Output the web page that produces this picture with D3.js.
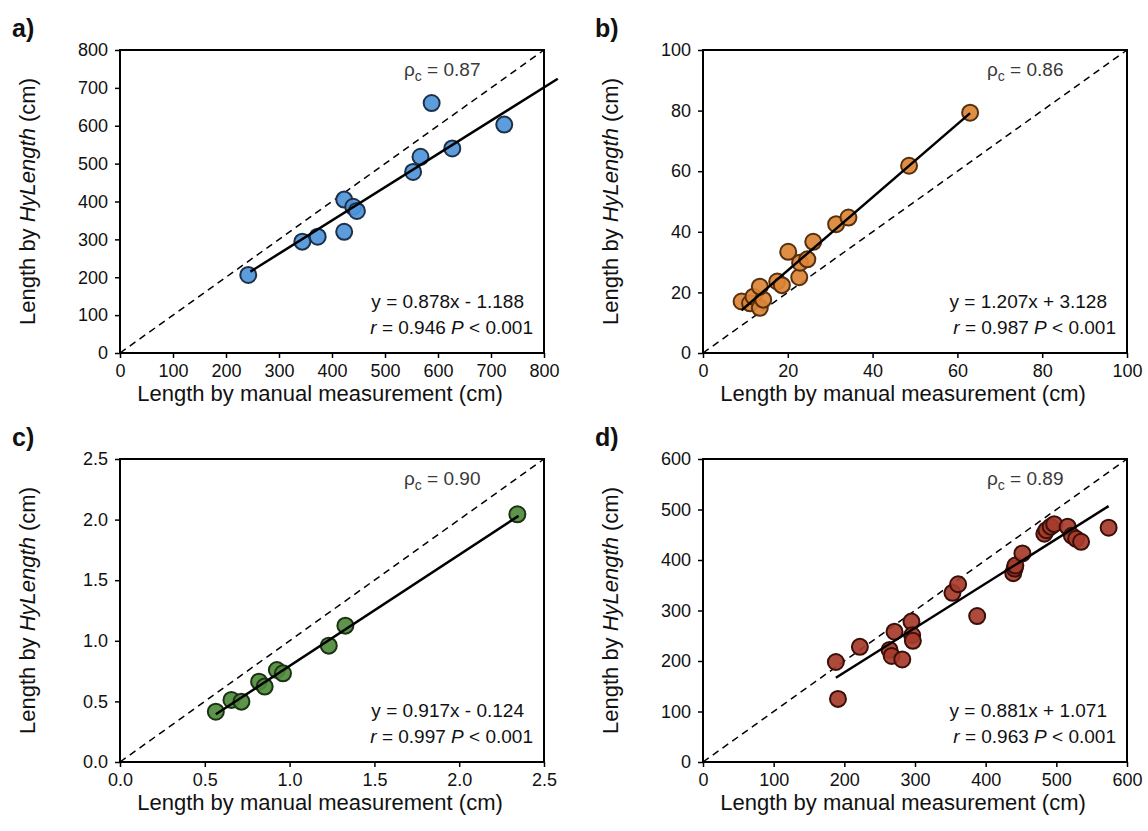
<!DOCTYPE html>
<html>
<head>
<meta charset="utf-8">
<script src="https://cdn.jsdelivr.net/npm/d3@7"></script>
<style>
  body { margin: 0; background: #fff; }
  svg { font-family: "Liberation Sans", Arial, Helvetica, sans-serif; }
</style>
</head>
<body>
<script>
var manualA = [242, 344, 373, 423, 423, 440, 447, 553, 567, 588, 627, 725];
var hyA     = [206, 294, 307, 320, 405, 386, 375, 478, 518, 660, 540, 603];

var manualB = [9.1, 11.1, 11.9, 13.4, 14.2, 13.4, 17.5, 18.6, 22.7, 20.1, 22.9, 24.6, 26.0, 31.4, 34.3, 48.6, 63.0];
var hyB     = [17.0, 16.4, 18.6, 14.9, 17.6, 21.9, 23.6, 22.4, 25.0, 33.4, 29.8, 30.9, 36.7, 42.5, 44.7, 61.8, 79.3];

var manualC = [0.565, 0.657, 0.716, 0.820, 0.853, 0.925, 0.961, 1.231, 1.329, 2.343];
var hyC     = [0.415, 0.512, 0.498, 0.663, 0.622, 0.759, 0.732, 0.960, 1.125, 2.044];

var manualD = [188, 191, 222, 264, 267, 271, 282, 295, 296, 297, 353, 361, 388, 439, 441, 442, 452, 483, 486, 492, 497, 516, 522, 528, 535, 574];
var hyD     = [198, 125, 228, 222, 210, 258, 203, 278, 251, 240, 335, 352, 289, 374, 383, 389, 413, 452, 459, 466, 471, 466, 448, 442, 436, 464];

// regression fits: slope, intercept, x extent of drawn line
var slopes     = [0.878, 1.207, 0.917, 0.881];
var intercepts = [-1.188, 3.128, -0.124, 1.071];
var fitFrom    = [246, 9.1, 0.565, 188];
var fitTo      = [826, 63, 2.35, 574];

// annotations
var panelLetters = ["a)", "b)", "c)", "d)"];
var rhoValues    = ["0.87", "0.86", "0.90", "0.89"];
var equations    = ["y = 0.878x - 1.188", "y = 1.207x + 3.128", "y = 0.917x - 0.124", "y = 0.881x + 1.071"];
var rValues      = ["0.946", "0.987", "0.997", "0.963"];

// axis extents / ticks
var axisMax   = [800, 100, 2.5, 600];
var tickSteps = [100, 20, 0.5, 100];
var tickFormats = ["d", "d", ".1f", "d"];

var fills   = ["#4f95db", "#dc8436", "#4f8b3c", "#a63b2b"];
var strokes = ["#1c3148", "#55300f", "#1d3214", "#3a100a"];

var width = 1148, height = 831;
var plotW = 424, plotH = 303;
var lefts = [120, 703, 120, 703];
var tops  = [50, 50, 459, 459];

var svg = d3.select("body").append("svg")
    .attr("width", width)
    .attr("height", height);

var allX = [manualA, manualB, manualC, manualD],
    allY = [hyA, hyB, hyC, hyD];

for (var i = 0; i < 4; i++) {
    drawPanel(i);
}

function drawPanel(i) {
    var g = svg.append("g")
        .attr("transform", "translate(" + lefts[i] + "," + tops[i] + ")");

    var x = d3.scaleLinear().domain([0, axisMax[i]]).range([0, plotW]);
    var y = d3.scaleLinear().domain([0, axisMax[i]]).range([plotH, 0]);
    var ticks = d3.range(0, axisMax[i] + tickSteps[i] / 2, tickSteps[i]);
    var fmt = d3.format(tickFormats[i]);

    //axes
    var xAxis = g.append("g")
        .attr("transform", "translate(0," + plotH + ")")
        .call(d3.axisBottom(x).tickValues(ticks).tickFormat(fmt).tickSize(5).tickSizeOuter(0).tickPadding(6));
    var yAxis = g.append("g")
        .call(d3.axisLeft(y).tickValues(ticks).tickFormat(fmt).tickSize(5).tickSizeOuter(0).tickPadding(7));
    [xAxis, yAxis].forEach(function (a) {
        a.select(".domain").remove();
        a.selectAll("line").attr("stroke", "#000").attr("stroke-width", 1.5);
        a.selectAll("text")
            .attr("fill", "#111")
            .style("font-size", "18px")
            .style("font-family", "'Liberation Sans', Arial, sans-serif");
    });

    //1:1 line
    g.append("line")
        .attr("x1", x(0)).attr("y1", y(0))
        .attr("x2", x(axisMax[i])).attr("y2", y(axisMax[i]))
        .attr("stroke", "#000")
        .attr("stroke-width", 1.5)
        .attr("stroke-dasharray", "7,5");

    //points
    var pts = allX[i].map(function (v, k) { return { x: v, y: allY[i][k] }; });
    g.selectAll(".dot")
        .data(pts)
        .enter()
        .append("circle")
        .attr("class", "dot")
        .attr("cx", function (d) { return x(d.x); })
        .attr("cy", function (d) { return y(d.y); })
        .attr("r", 8)
        .attr("fill", fills[i])
        .attr("fill-opacity", 0.92)
        .attr("stroke", strokes[i])
        .attr("stroke-width", 2);

    //regression line
    g.append("line")
        .attr("x1", x(fitFrom[i])).attr("y1", y(slopes[i] * fitFrom[i] + intercepts[i]))
        .attr("x2", x(fitTo[i])).attr("y2", y(slopes[i] * fitTo[i] + intercepts[i]))
        .attr("stroke", "#000")
        .attr("stroke-width", 2.5);

    //frame
    g.append("rect")
        .attr("width", plotW)
        .attr("height", plotH)
        .attr("fill", "none")
        .attr("stroke", "#000")
        .attr("stroke-width", 2);

    //rho_c
    var rho = g.append("text")
        .attr("x", plotW - 140)
        .attr("y", 26)
        .attr("fill", "#3a3a3a")
        .style("font-size", "19px");
    rho.append("tspan").text("ρ");
    rho.append("tspan").attr("dy", 5).style("font-size", "14px").text("c");
    rho.append("tspan").attr("dy", -5).text(" = " + rhoValues[i]);

    //equation and r
    g.append("text")
        .attr("x", plotW - 20)
        .attr("y", plotH - 45)
        .attr("text-anchor", "end")
        .attr("fill", "#111")
        .style("font-size", "19px")
        .text(equations[i]);
    var rt = g.append("text")
        .attr("x", plotW - 11)
        .attr("y", plotH - 19)
        .attr("text-anchor", "end")
        .attr("fill", "#111")
        .style("font-size", "19px");
    rt.append("tspan").style("font-style", "italic").text("r");
    rt.append("tspan").text(" = " + rValues[i] + " ");
    rt.append("tspan").style("font-style", "italic").text("P");
    rt.append("tspan").text(" < 0.001");

    //axis titles
    g.append("text")
        .attr("x", plotW / 2 - 12)
        .attr("y", plotH + 48)
        .attr("text-anchor", "middle")
        .attr("fill", "#111")
        .style("font-size", "22px")
        .text("Length by manual measurement (cm)");
    var yt = g.append("text")
        .attr("transform", "translate(-85," + (plotH / 2) + ") rotate(-90)")
        .attr("text-anchor", "middle")
        .attr("fill", "#111")
        .style("font-size", "22px");
    yt.append("tspan").text("Length by ");
    yt.append("tspan").style("font-style", "italic").text("HyLength");
    yt.append("tspan").text(" (cm)");

    //panel letter
    svg.append("text")
        .attr("x", lefts[i] - 108)
        .attr("y", tops[i] - 13)
        .attr("fill", "#111")
        .style("font-size", "25px")
        .style("font-weight", "bold")
        .text(panelLetters[i]);
}
</script>
</body>
</html>
